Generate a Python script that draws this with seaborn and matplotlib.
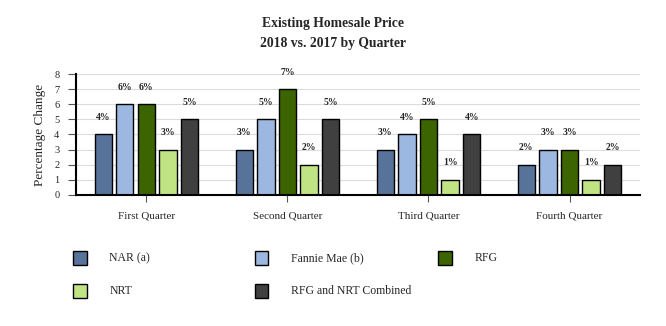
import matplotlib
matplotlib.use("Agg")
import matplotlib.pyplot as plt
from matplotlib.patches import Rectangle
import seaborn as sns
import pandas as pd

quarters = ["First Quarter", "Second Quarter", "Third Quarter", "Fourth Quarter"]
series = ["NAR (a)", "Fannie Mae (b)", "RFG", "NRT", "RFG and NRT Combined"]
nar = [4, 3, 3, 2]
fannie = [6, 5, 4, 3]
rfg = [6, 7, 5, 3]
nrt = [3, 2, 1, 1]
combined = [5, 5, 4, 2]
colors = ["#587399", "#9db8e0", "#3c6400", "#c0e484", "#404040"]

rows = []
for name, vals in zip(series, [nar, fannie, rfg, nrt, combined]):
    for q, v in zip(quarters, vals):
        rows.append({"Quarter": q, "Series": name, "Value": v})
df = pd.DataFrame(rows)

sns.set_theme(style="white")
plt.rcParams["font.family"] = ["Liberation Serif", "DejaVu Serif"]

fig = plt.figure(figsize=(6.66, 3.26), dpi=100)
ax = fig.add_axes([0.114, 0.402, 0.847, 0.371])

sns.barplot(data=df, x="Quarter", y="Value", hue="Series", palette=colors,
            order=quarters, hue_order=series, width=0.765, gap=0.2,
            saturation=1, edgecolor="black", linewidth=1.0, ax=ax,
            legend=False)

for cont in ax.containers:
    for bar in cont:
        h = bar.get_height()
        ax.annotate(f"{h:.0f}%", (bar.get_x() + bar.get_width() / 2, h),
                    xytext=(0, 9), textcoords="offset points",
                    ha="center", va="bottom", fontsize=7, fontweight="bold")

ax.set_ylim(0, 8)
ax.set_yticks(range(0, 9))
ax.set_xlim(-0.5, 3.5)
ax.yaxis.grid(True, color="#dcdcdc", linewidth=0.8)
ax.set_axisbelow(True)
for s in ["top", "right"]:
    ax.spines[s].set_visible(False)
ax.spines["left"].set_color("black")
ax.spines["bottom"].set_color("black")
ax.spines["left"].set_linewidth(1.5)
ax.spines["bottom"].set_linewidth(1.5)
ax.tick_params(axis="y", left=True, length=6, width=0.8, color="#555555",
               labelsize=7.5, pad=6)
ax.tick_params(axis="x", bottom=True, length=5, width=0.8, color="#555555",
               labelsize=8, pad=7)
ax.set_xlabel("")
ax.set_ylabel("Percentage Change", fontsize=9.5, labelpad=6)

fig.text(0.5, 0.928, "Existing Homesale Price", ha="center", va="center",
         fontsize=9.8, fontweight="bold")
fig.text(0.5, 0.868, "2018 vs. 2017 by Quarter", ha="center", va="center",
         fontsize=9.8, fontweight="bold")

# legend entries laid out row by row across three columns
col_x = [0.110, 0.383, 0.658]
row_y = [0.208, 0.107]
for i, (name, c) in enumerate(zip(series, colors)):
    r, k = divmod(i, 3)
    x, y = col_x[k], row_y[r]
    fig.patches.append(Rectangle((x, y - 0.021), 0.02, 0.042,
                                 facecolor=c, edgecolor="black", linewidth=1.0,
                                 transform=fig.transFigure, figure=fig))
    fig.text(x + 0.054, y, name, ha="left", va="center", fontsize=8.5)

fig.savefig("out.png", dpi=100)
